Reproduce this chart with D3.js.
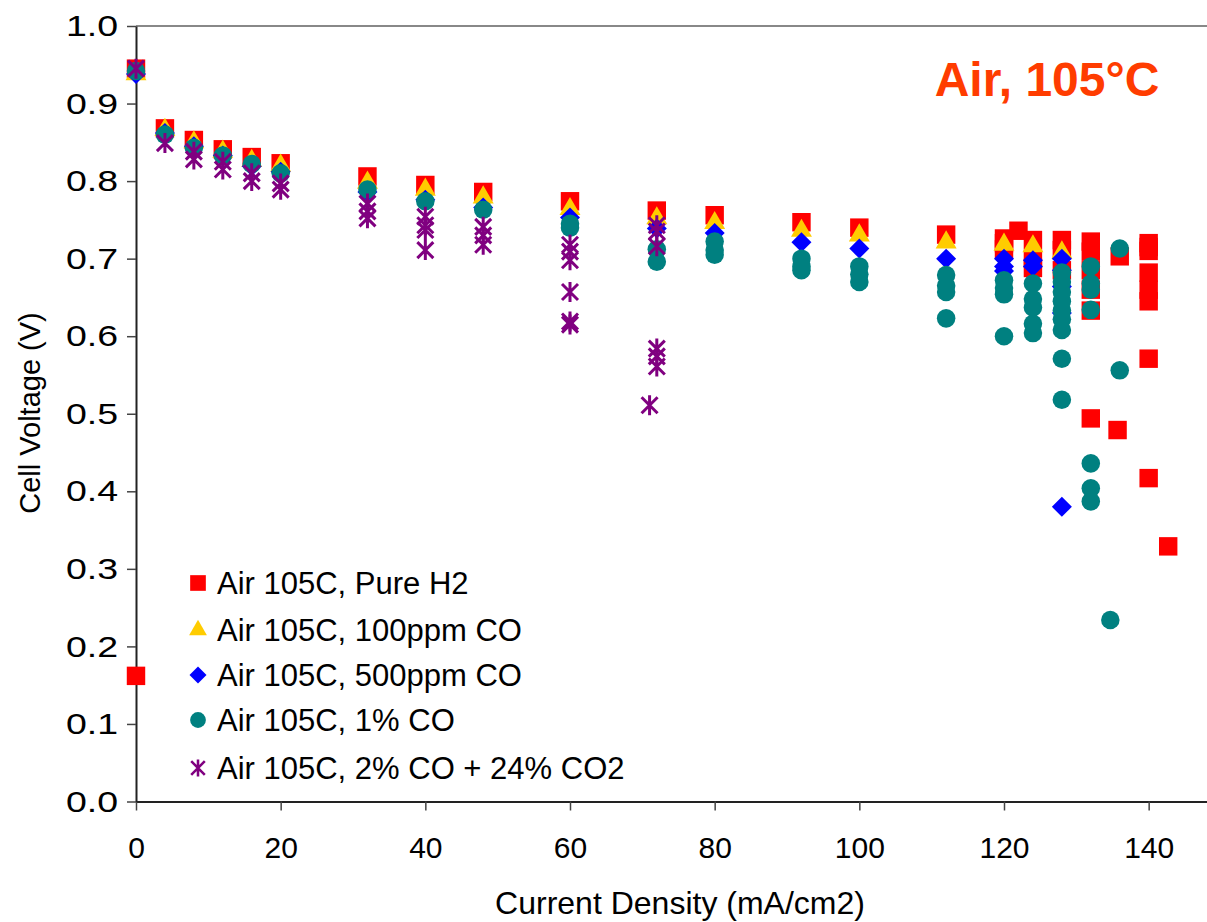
<!DOCTYPE html>
<html>
<head>
<meta charset="utf-8">
<script src="https://cdn.jsdelivr.net/npm/d3@7"></script>
<style>
  body { margin: 0; background: #fff; }
  text { font-family: "Liberation Sans", Arial, sans-serif; }
</style>
</head>
<body>
<div id="chart"></div>
<script>
// series values (x = mA/cm2, y = V)
const h2X = [0, 0, 4, 8, 12, 16, 20, 32, 40, 48, 60, 72, 80, 92, 100, 112, 120, 120, 120, 122, 124, 124, 124, 128, 128, 128, 132, 132, 132, 132, 132, 132, 135.7, 136, 140, 140, 140, 140, 140, 140, 140, 140, 142.7];
const h2Y = [0.945, 0.162, 0.868, 0.853, 0.841, 0.831, 0.823, 0.806, 0.795, 0.786, 0.774, 0.762, 0.756, 0.747, 0.740, 0.731, 0.726, 0.720, 0.712, 0.736, 0.724, 0.700, 0.688, 0.724, 0.711, 0.685, 0.722, 0.709, 0.685, 0.660, 0.633, 0.494, 0.479, 0.703, 0.720, 0.715, 0.710, 0.682, 0.660, 0.645, 0.571, 0.417, 0.329];

const co100X = [0, 4, 8, 12, 16, 20, 32, 40, 48, 60, 72, 80, 92, 100, 112, 120, 124, 128];
const co100Y = [0.938, 0.866, 0.850, 0.838, 0.826, 0.820, 0.798, 0.789, 0.779, 0.764, 0.752, 0.746, 0.736, 0.730, 0.721, 0.718, 0.716, 0.708];

const co500X = [0, 4, 8, 12, 16, 20, 32, 40, 48, 60, 72, 80, 92, 100, 112, 120, 120, 120, 124, 124, 128, 128, 128, 128, 128];
const co500Y = [0.938, 0.862, 0.845, 0.833, 0.819, 0.812, 0.786, 0.776, 0.766, 0.753, 0.739, 0.733, 0.721, 0.713, 0.700, 0.700, 0.690, 0.684, 0.698, 0.690, 0.700, 0.685, 0.664, 0.630, 0.380];

const co1X = [0, 4, 8, 12, 16, 20, 32, 40, 48, 60, 60, 72, 72, 80, 80, 80, 92, 92, 92, 100, 100, 100, 112, 112, 112, 112, 120, 120, 120, 120, 124, 124, 124, 124, 124, 128, 128, 128, 128, 128, 128, 128, 128, 128, 132, 132, 132, 132, 132, 132, 132, 134.7, 136, 136];
const co1Y = [0.942, 0.860, 0.843, 0.833, 0.822, 0.810, 0.789, 0.774, 0.763, 0.745, 0.740, 0.712, 0.696, 0.722, 0.711, 0.705, 0.700, 0.690, 0.685, 0.690, 0.680, 0.670, 0.679, 0.665, 0.657, 0.623, 0.672, 0.662, 0.654, 0.600, 0.668, 0.648, 0.637, 0.616, 0.604, 0.682, 0.670, 0.657, 0.645, 0.633, 0.622, 0.608, 0.571, 0.518, 0.690, 0.668, 0.660, 0.634, 0.436, 0.404, 0.387, 0.234, 0.713, 0.556];

const co2X = [0, 4, 8, 8, 12, 12, 16, 16, 20, 20, 32, 32, 32, 40, 40, 40, 40, 48, 48, 48, 60, 60, 60, 60, 60, 60, 71, 72, 72, 72, 72, 72, 72];
const co2Y = [0.945, 0.849, 0.838, 0.828, 0.825, 0.815, 0.810, 0.800, 0.797, 0.789, 0.771, 0.761, 0.752, 0.754, 0.743, 0.737, 0.711, 0.741, 0.730, 0.718, 0.718, 0.709, 0.698, 0.657, 0.619, 0.615, 0.511, 0.743, 0.735, 0.716, 0.584, 0.574, 0.561];

const seriesNames = ["Air 105C, Pure H2", "Air 105C, 100ppm CO", "Air 105C, 500ppm CO", "Air 105C, 1% CO", "Air 105C, 2% CO + 24% CO2"];
const xTicks = [0, 20, 40, 60, 80, 100, 120, 140];
const yTicks = [0, 0.1, 0.2, 0.3, 0.4, 0.5, 0.6, 0.7, 0.8, 0.9, 1.0];

const W = 1207, H = 922;
const margin = {top: 26, left: 136};
const plotW = 1085, plotH = 775.5;

const svg = d3.select("#chart").append("svg")
  .attr("width", W).attr("height", H);

const x = d3.scaleLinear().domain([0, 150]).range([0, plotW]);
const y = d3.scaleLinear().domain([0, 1]).range([plotH, 0]);

const g = svg.append("g").attr("transform", `translate(${margin.left},${margin.top})`);

// plot area border (only top visible, right edge falls outside picture)
g.append("line").attr("x1", 0).attr("x2", plotW).attr("y1", 0).attr("y2", 0)
  .attr("stroke", "#888").attr("stroke-width", 2);

// axes
const xAxis = g.append("g").attr("transform", `translate(0,${plotH})`)
  .call(d3.axisBottom(x).tickValues(xTicks).tickSize(9).tickSizeOuter(0).tickPadding(26));
const yAxis = g.append("g")
  .call(d3.axisLeft(y).tickValues(yTicks).tickSize(9).tickSizeOuter(0).tickFormat(d3.format(".1f")));

[xAxis, yAxis].forEach(ax => {
  ax.select(".domain").attr("stroke", "#222").attr("stroke-width", 2);
  ax.selectAll(".tick line").attr("stroke", "#444").attr("stroke-width", 1.5);
  ax.selectAll(".tick text").attr("fill", "#000").style("font-size", "30px")
    .style("font-family", "'Liberation Sans', Arial, sans-serif");
});
// the y labels are drawn wider in the original
yAxis.selectAll(".tick text")
  .attr("x", 0)
  .attr("transform", "translate(-18,0) scale(1.25,1)");

// marker shapes
const squarePath = d3.symbol().type(d3.symbolSquare).size(340)();
const trianglePath = d3.symbol().type(d3.symbolTriangle).size(190)();
const diamondPath = "M0,-10L10,0L0,10L-10,0Z";
const circlePath = d3.symbol().type(d3.symbolCircle).size(270)();
const starPath = "M0,-10V10M-8,-8L8,8M-8,8L8,-8";

const series = [
  {xs: h2X, ys: h2Y, path: squarePath, fill: "#ff0000", stroke: "none"},
  {xs: co100X, ys: co100Y, path: trianglePath, fill: "#ffcc00", stroke: "none"},
  {xs: co500X, ys: co500Y, path: diamondPath, fill: "#0000ff", stroke: "none"},
  {xs: co1X, ys: co1Y, path: circlePath, fill: "#008080", stroke: "none"},
  {xs: co2X, ys: co2Y, path: starPath, fill: "none", stroke: "#800080"}
];

series.forEach(s => {
  g.append("g")
    .selectAll("path")
    .data(s.xs.map((v, i) => [v, s.ys[i]]))
    .enter()
    .append("path")
    .attr("d", s.path)
    .attr("transform", d => `translate(${x(d[0])},${y(d[1])})`)
    .attr("fill", s.fill)
    .attr("stroke", s.stroke)
    .attr("stroke-width", 3);
});

// axis titles
svg.append("text")
  .attr("x", 680).attr("y", 914)
  .attr("text-anchor", "middle")
  .style("font-size", "32px")
  .text("Current Density (mA/cm2)");

svg.append("text")
  .attr("transform", "translate(40,413) rotate(-90)")
  .attr("text-anchor", "middle")
  .style("font-size", "29px")
  .text("Cell Voltage (V)");

// chart label
svg.append("text")
  .attr("x", 1047).attr("y", 96)
  .attr("text-anchor", "middle")
  .attr("fill", "#ff3c00")
  .style("font-size", "48px")
  .style("font-weight", "bold")
  .text("Air, 105°C");

// legend
const legendY = [583, 630, 675, 720, 768];
const legend = svg.append("g");
series.forEach((s, i) => {
  const row = legend.append("g").attr("transform", `translate(198,${legendY[i]})`);
  row.append("path")
    .attr("d", s.path)
    .attr("transform", "scale(0.85)")
    .attr("fill", s.fill)
    .attr("stroke", s.stroke)
    .attr("stroke-width", 3);
  row.append("text")
    .attr("x", 19).attr("y", 11)
    .style("font-size", "31px")
    .text(seriesNames[i]);
});
</script>
</body>
</html>
